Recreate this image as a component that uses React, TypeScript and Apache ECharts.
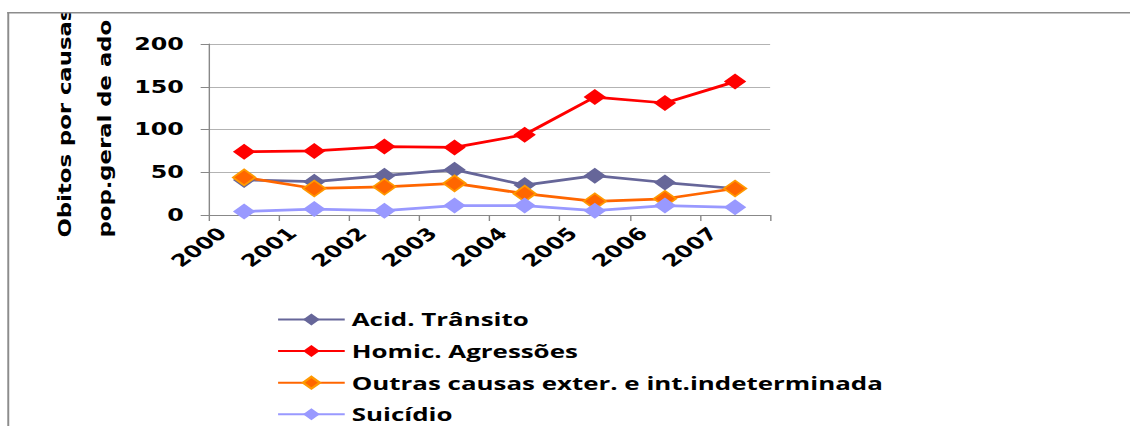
import React, { useEffect, useRef } from "react";
import * as echarts from "echarts";

const years = ["2000", "2001", "2002", "2003", "2004", "2005", "2006", "2007"];
const seriesNames = [
  "Acid. Trânsito",
  "Homic. Agressões",
  "Outras causas exter. e int.indeterminada",
  "Suicídio",
];
const acidTransito = [41, 39, 46, 53, 35, 46, 38, 31];
const homicAgressoes = [74, 75, 80, 79, 94, 138, 131, 156];
const outrasCausas = [44, 31, 33, 37, 25, 16, 19, 31];
const suicidio = [4, 7, 5, 11, 11, 5, 11, 9];
const titleLines = ["Obitos por causas", "pop.geral de ado"];

const W = 807;
const H = 426;
const SX = 1130 / W;

export default function App() {
  const ref = useRef<HTMLDivElement>(null);
  useEffect(() => {
    if (!ref.current) return;
    const chart = echarts.init(ref.current, null, { renderer: "svg" });
    const mkSeries = (
      name: string,
      data: number[],
      color: string,
      border?: string
    ) => ({
      name,
      type: "line",
      data,
      symbol: "diamond",
      symbolSize: 16,
      lineStyle: { color, width: 2.75 },
      itemStyle: {
        color,
        borderColor: border || color,
        borderWidth: border ? 1.5 : 0,
      },
      emphasis: { disabled: true },
    });
    chart.setOption({
      animation: false,
      backgroundColor: "#ffffff",
      grid: { left: 149.3, right: W - 550, top: 44, bottom: H - 215, containLabel: false },
      xAxis: {
        type: "category",
        data: years,
        boundaryGap: true,
        axisLine: { show: true, lineStyle: { color: "#888888", width: 1 } },
        axisTick: { show: true, length: 6, interval: 0, lineStyle: { color: "#888888" } },
        axisLabel: {
          interval: 0,
          rotate: 45,
          margin: 0,
          padding: [0, 22, 0, 0],
          fontFamily: "DejaVu Sans",
          fontWeight: "bold",
          fontSize: 17,
          color: "#000000",
        },
        splitLine: { show: false },
      },
      yAxis: {
        type: "value",
        min: 0,
        max: 200,
        interval: 50,
        axisLine: { show: true, lineStyle: { color: "#888888", width: 1 } },
        axisTick: { show: true, length: 6, lineStyle: { color: "#888888" } },
        axisLabel: {
          margin: 18,
          padding: [6, 0, 0, 0],
          fontFamily: "DejaVu Sans",
          fontWeight: "bold",
          fontSize: 17,
          color: "#000000",
        },
        splitLine: { show: true, lineStyle: { color: "#b3b3b3", width: 1 } },
      },
      legend: {
        orient: "vertical",
        left: 197.6,
        top: 310,
        height: 116,
        padding: 0,
        itemWidth: 47.6,
        itemHeight: 15,
        itemGap: 12.6,
        data: seriesNames,
        textStyle: {
          fontFamily: "Open Sans",
          fontWeight: "bold",
          fontSize: 18.5,
          lineHeight: 17,
          color: "#000000",
        },
      },
      series: [
        mkSeries(seriesNames[0], acidTransito, "#666699"),
        mkSeries(seriesNames[1], homicAgressoes, "#FF0000"),
        mkSeries(seriesNames[2], outrasCausas, "#FF6600", "#FF9900"),
        mkSeries(seriesNames[3], suicidio, "#9999FF"),
      ],
      graphic: [
        {
          type: "text",
          x: 46.4,
          y: 237.5,
          rotation: Math.PI / 2,
          scaleX: 1.75,
          z: 10,
          style: {
            text: titleLines[0],
            font: 'bold 13px "DejaVu Sans"',
            fill: "#000000",
            align: "left",
            verticalAlign: "middle",
          },
        },
        {
          type: "text",
          x: 75,
          y: 237.5,
          rotation: Math.PI / 2,
          scaleX: 1.75,
          z: 10,
          style: {
            text: titleLines[1],
            font: 'bold 13px "DejaVu Sans"',
            fill: "#000000",
            align: "left",
            verticalAlign: "middle",
          },
        },
        {
          type: "rect",
          z: 20,
          shape: { x: 0, y: 0, width: W, height: 12 },
          style: { fill: "#ffffff" },
        },
        {
          type: "line",
          z: 21,
          shape: { x1: 5.2, y1: 12.7, x2: W, y2: 12.7 },
          style: { stroke: "#8c8c8c", lineWidth: 1.6 },
        },
        {
          type: "line",
          z: 21,
          shape: { x1: 5.9, y1: 12, x2: 5.9, y2: H },
          style: { stroke: "#8c8c8c", lineWidth: 1.4 },
        },
      ],
    });
    return () => chart.dispose();
  }, []);
  return (
    <div
      ref={ref}
      style={{
        position: "fixed",
        left: 0,
        top: 0,
        width: W,
        height: H,
        transform: `scaleX(${SX})`,
        transformOrigin: "0 0",
        background: "#ffffff",
      }}
    />
  );
}
